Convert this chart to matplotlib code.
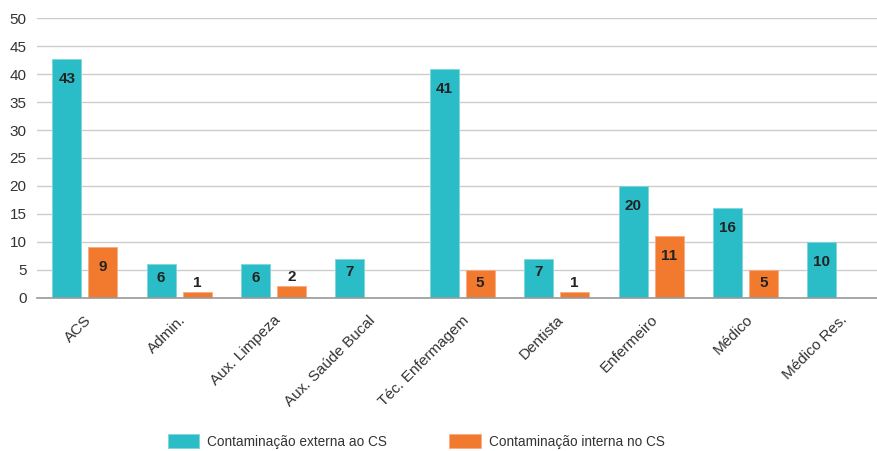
import numpy as np
import matplotlib
matplotlib.use("Agg")
import matplotlib.pyplot as plt

plt.rcParams['font.family'] = ['Liberation Sans', 'DejaVu Sans']

# data
categories = ['ACS', 'Admin.', 'Aux. Limpeza', 'Aux. Saúde Bucal', 'Téc. Enfermagem',
              'Dentista', 'Enfermeiro', 'Médico', 'Médico Res.']
externa = [42.7, 6, 6, 7, 40.9, 7, 20, 16, 10]
interna = [9, 1, 2, 0, 5, 1, 11, 5, 0]
externa_lbl = [43, 6, 6, 7, 41, 7, 20, 16, 10]
interna_lbl = [9, 1, 2, None, 5, 1, 11, 5, None]

TEAL = '#2abdc7'
ORANGE = '#f27a2f'

fig = plt.figure(figsize=(8.78, 4.51), dpi=100)
ax = fig.add_axes([0.0427, 0.34, 0.9573, 0.6194])

x = np.arange(len(categories))
w = 0.307
off = 0.19
b1 = ax.bar(x - off, externa, w, color=TEAL, edgecolor='#7fd6dc', linewidth=0.6, zorder=3)
b2 = ax.bar(x + off, interna, w, color=ORANGE, edgecolor='#f8ab80', linewidth=0.6, zorder=3)


def label(xpos, h, txt):
    """value label inside the bar top, above it for tiny bars"""
    if txt is None:
        return
    if h >= 9:
        dy = -20
    elif h >= 5:
        dy = -13.5
    else:
        dy = 9
    ax.annotate(str(txt), (xpos, h), xytext=(0, dy * 0.72), textcoords='offset points',
                ha='center', va='center', fontsize=11, fontweight='bold', color='#222222',
                zorder=4)


for i in range(len(categories)):
    label(x[i] - off, externa[i], externa_lbl[i])
    label(x[i] + off, interna[i], interna_lbl[i])

ax.set_ylim(0, 50)
ax.set_xlim(-0.5, -0.5 + (878 - 37.5) / 94.4)
ax.set_yticks(np.arange(0, 51, 5))
ax.yaxis.grid(True, color='#cccccc', linewidth=1, zorder=0)
ax.set_axisbelow(True)
for s in ['top', 'right', 'left']:
    ax.spines[s].set_visible(False)
ax.spines['bottom'].set_color('#999999')
ax.spines['bottom'].set_linewidth(1.2)
ax.spines['bottom'].set_zorder(5)
ax.tick_params(axis='both', length=0, labelsize=11, colors='#333333')
ax.tick_params(axis='y', pad=8)
ax.tick_params(axis='x', pad=11)
ax.set_xticks(x)
ax.set_xticklabels(categories, rotation=45, ha='right', rotation_mode='anchor')

fig.legend([b1, b2], ['Contaminação externa ao CS', 'Contaminação interna no CS'],
           loc='center', bbox_to_anchor=(0.474, 0.022), ncol=2, frameon=False,
           fontsize=9.8, handlelength=2.3, handleheight=1.3, columnspacing=4.6,
           handletextpad=0.6, labelcolor='#333333')

fig.savefig('out.png', dpi=100)
